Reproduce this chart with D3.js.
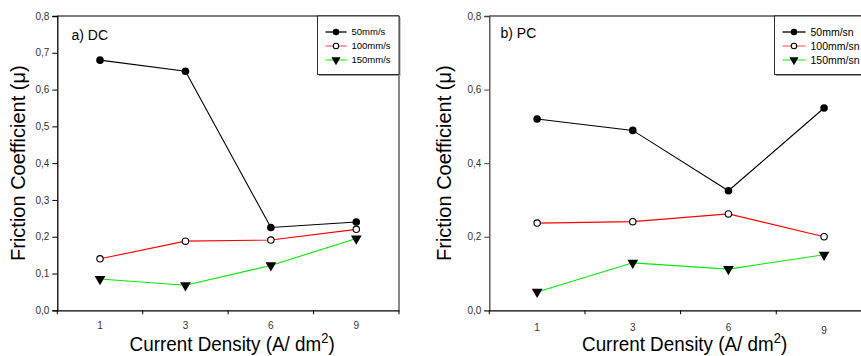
<!DOCTYPE html>
<html>
<head>
<meta charset="utf-8">
<script src="https://cdn.jsdelivr.net/npm/d3@7"></script>
<style>
  body { margin: 0; background: #fff; }
  svg { font-family: "Liberation Sans", Arial, sans-serif; display: block; }
</style>
</head>
<body>
<div id="chart"></div>
<script>
// categories on the x axis (current density, A/dm2)
var densities = ["1", "3", "6", "9"];

// a) DC friction coefficients
var dc50 = [0.68, 0.65, 0.225, 0.24];
var dc100 = [0.14, 0.188, 0.191, 0.22];
var dc150 = [0.085, 0.068, 0.122, 0.195];

// b) PC friction coefficients
var pc50 = [0.52, 0.489, 0.325, 0.55];
var pc100 = [0.237, 0.241, 0.262, 0.20];
var pc150 = [0.05, 0.129, 0.112, 0.151];

var dcNames = ["50mm/s", "100mm/s", "150mm/s"];
var pcNames = ["50mm/sn", "100mm/sn", "150mm/sn"];
var dcTicks = [0, 0.1, 0.2, 0.3, 0.4, 0.5, 0.6, 0.7, 0.8];
var pcTicks = [0, 0.2, 0.4, 0.6, 0.8];

var lineColors = ["#000000", "#ff0000", "#00ee00"];
var legendLineColors = ["#000000", "#ff7070", "#33ff33"];
var markers = ["dot", "open", "tri"];

var svg = d3.select("#chart").append("svg")
    .attr("width", 861)
    .attr("height", 356);

var fmt = function(v) { return d3.format(".1f")(v).replace(".", ","); };

function drawPanel(p) {
  var x = d3.scaleBand()
      .domain(densities)
      .range([p.left, p.left + p.width]);
  var y = d3.scaleLinear()
      .domain([0, 0.8])
      .range([p.bottom, p.top]);

  var g = svg.append("g");

  // frame top / right
  g.append("line")
      .attr("x1", p.left).attr("x2", p.left + p.width)
      .attr("y1", p.top).attr("y2", p.top)
      .attr("stroke", "#000").attr("stroke-width", 1.2);
  g.append("line")
      .attr("x1", p.left + p.width).attr("x2", p.left + p.width)
      .attr("y1", p.top).attr("y2", p.bottom)
      .attr("stroke", "#888").attr("stroke-width", 2);

  // y axis
  var yAxis = g.append("g")
      .attr("transform", "translate(" + p.left + ",0)")
      .call(d3.axisLeft(y).tickValues(p.yticks).tickFormat(fmt).tickSize(5).tickPadding(3));
  yAxis.select(".domain").attr("stroke", p.yAxisColor).attr("stroke-width", 1.3);
  yAxis.selectAll(".tick line").attr("stroke", p.yAxisColor);
  yAxis.selectAll("text").style("font-size", "10px").attr("fill", "#333");

  // x axis: labels at band centres, ticks at band edges
  var xAxis = g.append("g")
      .attr("transform", "translate(0," + p.bottom + ")")
      .call(d3.axisBottom(x).tickSize(0).tickPadding(p.xPad));
  xAxis.select(".domain").attr("stroke", "#000").attr("stroke-width", 1.3);
  xAxis.selectAll("text").style("font-size", "10px").attr("fill", "#333");
  if (p.lastDrop) {
    xAxis.selectAll(".tick text").filter(function(d) { return d === "9"; })
        .attr("dy", (0.71 + p.lastDrop / 10) + "em");
  }
  var edges = d3.range(densities.length + 1);
  g.selectAll("line.edge").data(edges).enter().append("line")
      .attr("class", "edge")
      .attr("x1", function(i) { return x.range()[0] + i * x.step(); })
      .attr("x2", function(i) { return x.range()[0] + i * x.step(); })
      .attr("y1", p.bottom).attr("y2", p.bottom + 4)
      .attr("stroke", "#000");

  // axis titles
  g.append("text")
      .attr("transform", "translate(" + p.yTitleX + "," + ((p.top + p.bottom) / 2) + ") rotate(-90)")
      .attr("text-anchor", "middle")
      .attr("dy", "0.35em")
      .style("font-size", "20px")
      .text("Friction Coefficient (\u03bc)");
  var xt = g.append("text")
      .attr("transform", "translate(" + (p.left + p.width / 2 + 4) + "," + p.xTitleY + ") scale(0.92,1)")
      .attr("text-anchor", "middle")
      .style("font-size", "20.5px");
  xt.append("tspan").text("Current Density (A/ dm");
  xt.append("tspan").attr("dy", "-8").style("font-size", "14px").text("2");
  xt.append("tspan").attr("dy", "8").text(")");

  // panel label
  g.append("text")
      .attr("x", p.labelX).attr("y", p.labelY)
      .style("font-size", "14px")
      .text(p.label);

  // series
  var line = d3.line()
      .x(function(d, i) { return x(densities[i]) + x.bandwidth() / 2; })
      .y(function(d) { return y(d); });

  p.series.forEach(function(s, k) {
    g.append("path")
        .datum(s)
        .attr("d", line)
        .attr("fill", "none")
        .attr("stroke", lineColors[k])
        .attr("stroke-width", 1.1);
    s.forEach(function(v, i) {
      drawMarker(g, markers[k], x(densities[i]) + x.bandwidth() / 2, y(v), 1);
    });
  });

  // legend
  var lg = g.append("g");
  lg.append("rect")
      .attr("x", p.legX + 1.5).attr("y", p.top + 1.5)
      .attr("width", p.legW).attr("height", p.legH)
      .attr("fill", "#999");
  lg.append("rect")
      .attr("x", p.legX).attr("y", p.top)
      .attr("width", p.legW).attr("height", p.legH)
      .attr("fill", "#fff").attr("stroke", "#000").attr("stroke-width", 0.8);
  p.names.forEach(function(name, k) {
    var ly = p.top + 16 + k * 14;
    lg.append("line")
        .attr("x1", p.legX + 8).attr("x2", p.legX + 8 + p.legLine)
        .attr("y1", ly).attr("y2", ly)
        .attr("stroke", legendLineColors[k]).attr("stroke-width", 1.3);
    drawMarker(lg, markers[k], p.legX + 8 + p.legLine / 2, ly, 0.85);
    lg.append("text")
        .attr("x", p.legX + 8 + p.legLine + 5)
        .attr("y", ly).attr("dy", "0.35em")
        .style("font-size", p.legFont)
        .text(name);
  });
}

function drawMarker(g, type, cx, cy, s) {
  if (type === "dot") {
    g.append("circle").attr("cx", cx).attr("cy", cy).attr("r", 3.8 * s)
        .attr("fill", "#000");
  } else if (type === "open") {
    g.append("circle").attr("cx", cx).attr("cy", cy).attr("r", 3.2 * s)
        .attr("fill", "#fff").attr("stroke", "#000").attr("stroke-width", 1.1);
  } else {
    g.append("path")
        .attr("d", d3.symbol(d3.symbolTriangle, 50 * s * s)())
        .attr("transform", "translate(" + cx + "," + cy + ") rotate(180)")
        .attr("fill", "#000");
  }
}

drawPanel({
  left: 57.3, width: 341.7, top: 16, bottom: 310.3,
  yticks: dcTicks, yAxisColor: "#000",
  series: [dc50, dc100, dc150], names: dcNames,
  label: "a) DC", labelX: 71.5, labelY: 40,
  yTitleX: 18, xTitleY: 351, xPad: 12, lastDrop: 0,
  legX: 317.5, legW: 81.5, legH: 58.5, legLine: 21, legFont: "9.5px"
});

drawPanel({
  left: 489.3, width: 382.6, top: 16, bottom: 310.3,
  yticks: pcTicks, yAxisColor: "#444",
  series: [pc50, pc100, pc150], names: pcNames,
  label: "b) PC", labelX: 500.5, labelY: 38,
  yTitleX: 444, xTitleY: 351, xPad: 14, lastDrop: 3,
  legX: 774.5, legW: 100, legH: 58.5, legLine: 23, legFont: "10.5px"
});
</script>
</body>
</html>
